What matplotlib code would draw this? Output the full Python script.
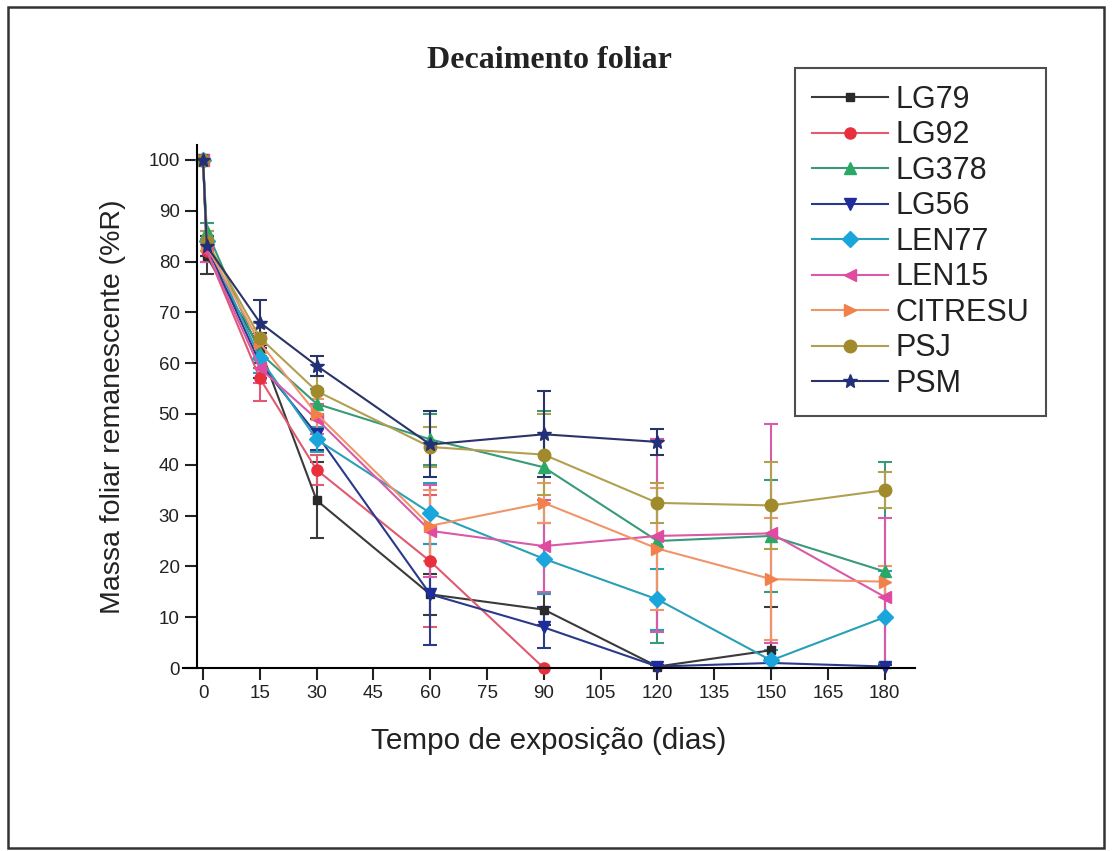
import matplotlib.pyplot as plt
import numpy as np
from matplotlib.patches import Rectangle

nan = np.nan

# tempo de exposição (dias)
dias = [0, 1, 15, 30, 60, 90, 120, 150, 180]

# massa foliar remanescente (%R) por tratamento
LG79 = [100, 81, 63, 33, 14.5, 11.5, 0.3, 3.5, nan]
LG92 = [100, 82, 57, 39, 21, 0, nan, nan, nan]
LG378 = [100, 86, 62, 52, 45, 39.5, 25, 26, 19]
LG56 = [100, 83, 60, 46, 14.5, 8, 0.3, 1.0, 0.3]
LEN77 = [100, 84, 61, 45, 30.5, 21.5, 13.5, 1.5, 10]
LEN15 = [100, 82, 59, 49, 27, 24, 26, 26.5, 14]
CITRESU = [100, 83, 64, 50, 28, 32.5, 23.5, 17.5, 17]
PSJ = [100, 84, 65, 54.5, 43.5, 42, 32.5, 32, 35]
PSM = [100, 83, 68, 59.5, 44, 46, 44.5, nan, nan]

# desvios
LG79_err = [0, 3.5, 3, 7.5, 4, 3, 0.3, 8.5, nan]
LG92_err = [0, 2, 4.5, 3, 13, 0, nan, nan, nan]
LG378_err = [0, 1.5, 3, 3, 5, 11, 20, 11, 21.5]
LG56_err = [0, 2, 3, 3, 10, 4, 0.3, 1, 0.3]
LEN77_err = [0, 2, 3, 2.5, 6, 7, 6, 2, 9]
LEN15_err = [0, 2, 3, 3, 9, 9, 19, 21.5, 15.5]
CITRESU_err = [0, 2, 3, 3, 7, 4, 12, 12, 3]
PSJ_err = [0, 2, 3, 3, 4, 8, 4, 8.5, 3.5]
PSM_err = [0, 2, 4.5, 2, 6.5, 8.5, 2.5, nan, nan]

nomes = ["LG79", "LG92", "LG378", "LG56", "LEN77", "LEN15", "CITRESU", "PSJ", "PSM"]
valores = [LG79, LG92, LG378, LG56, LEN77, LEN15, CITRESU, PSJ, PSM]
erros = [LG79_err, LG92_err, LG378_err, LG56_err, LEN77_err, LEN15_err, CITRESU_err, PSJ_err, PSM_err]
cores = ["#2a2a2a", "#e8303c", "#2aa866", "#1f2d9c", "#1aa6dc", "#e04aa0", "#f2804a", "#a08a2c", "#22307a"]
linhas = ["#3a3a3a", "#e05a70", "#3a9a78", "#2a3a8a", "#2aa0b8", "#d85aa8", "#f0956a", "#b0a050", "#2a3468"]
marcadores = ["s", "o", "^", "v", "D", "<", ">", "o", "*"]
tamanhos = [6, 8, 9, 9, 8, 9, 9, 9, 10]

plt.rcParams['font.family'] = ['Liberation Sans', 'DejaVu Sans']

fig = plt.figure(figsize=(11.12, 8.51), dpi=100)
ax = fig.add_axes([183 / 1112, 0.215, 732 / 1112, 0.615])

for nome, v, e, c, lc, m, ms in zip(nomes, valores, erros, cores, linhas, marcadores, tamanhos):
    v = np.array(v)
    e = np.array(e)
    baixo = np.minimum(e, v)  # barra nao passa do zero
    ax.errorbar(dias, v, yerr=[baixo, e], color=lc, ecolor=lc, elinewidth=1.5, capsize=5, capthick=1.5,
                linewidth=1.5, marker=m, markersize=ms, markerfacecolor=c, markeredgecolor=c,
                label=nome, clip_on=False)

ax.set_xlim(-5.3, 188)
ax.set_ylim(0, 103)
ax.set_xticks(np.arange(0, 181, 15))
ax.set_yticks(np.arange(0, 101, 10))
ax.spines['top'].set_visible(False)
ax.spines['right'].set_visible(False)
ax.spines['left'].set_position(('data', -1.6))
for s in ['left', 'bottom']:
    ax.spines[s].set_linewidth(1.5)
ax.tick_params(direction='out', length=8.5, width=1.5, pad=4, labelsize=13.5, colors='#222222')

ax.set_xlabel("Tempo de exposição (dias)", fontsize=21.4, color='#222222', labelpad=18)
ax.set_ylabel("Massa foliar remanescente (%R)", fontsize=20.5, color='#222222', labelpad=16)
ax.set_title("Decaimento foliar", fontsize=23, fontweight='bold', family='Liberation Serif',
             color='#222222', pad=55)

h, l = ax.get_legend_handles_labels()
h = [x[0] for x in h]
leg = fig.legend(h, l, loc='upper left', bbox_to_anchor=(795 / 1112, 1 - 68 / 851),
                 bbox_transform=fig.transFigure, fontsize=22, frameon=True, fancybox=False,
                 edgecolor='#222222', handlelength=2.5, handletextpad=0.25, labelspacing=0.18,
                 borderpad=0.55, borderaxespad=0)
leg.get_frame().set_linewidth(1.5)
for t in leg.get_texts():
    t.set_color('#222222')

# moldura externa
fig.patches.append(Rectangle((8 / 1112, 1 - 848 / 851), 1096 / 1112, 841 / 851,
                             transform=fig.transFigure, fill=False, edgecolor='#333333', linewidth=1.8))

fig.savefig("out.png", dpi=100)
